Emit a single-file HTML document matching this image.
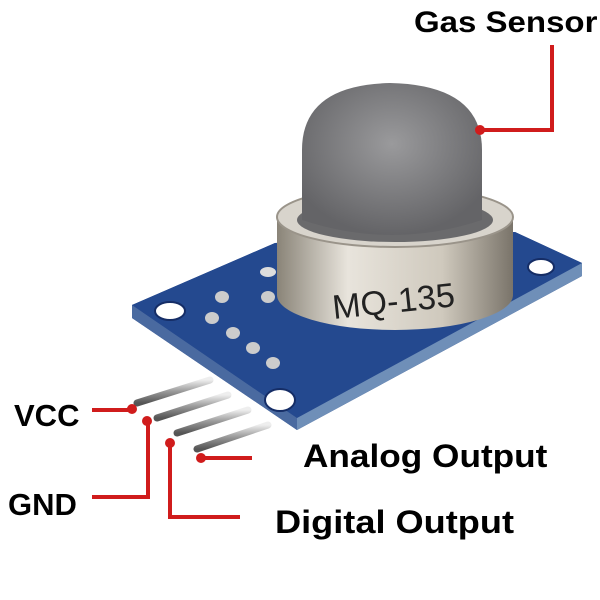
<!DOCTYPE html>
<html><head><style>
body{margin:0;background:#fff;width:600px;height:600px;overflow:hidden;position:relative;font-family:"Liberation Sans",sans-serif}
.t{position:absolute;font-weight:bold;color:#000;white-space:nowrap;line-height:1;transform-origin:0 0}
</style></head><body>
<svg width="600" height="600" style="position:absolute;left:0;top:0">
<defs>
<linearGradient id="pin" x1="0" y1="0" x2="0" y2="1"><stop offset="0" stop-color="#eee"/><stop offset=".5" stop-color="#999"/><stop offset="1" stop-color="#555"/></linearGradient>
<linearGradient id="ring" x1="0" y1="0" x2="1" y2="0"><stop offset="0" stop-color="#8a8478"/><stop offset=".3" stop-color="#e8e4dc"/><stop offset=".7" stop-color="#cfc9bd"/><stop offset="1" stop-color="#7a746a"/></linearGradient>
<radialGradient id="mesh" cx=".5" cy=".4" r=".6"><stop offset="0" stop-color="#9a9a9c"/><stop offset="1" stop-color="#646467"/></radialGradient>
</defs>
<polygon points="132,305 275,243 515,232 582,263 582,276 297,430 132,318" fill="#1f3f86"/>
<polygon points="132,305 275,243 515,232 582,263 297,418" fill="#24498f"/>
<polygon points="297,418 582,263 582,276 297,430" fill="#6f8fb8"/>
<polygon points="132,305 297,418 297,430 132,318" fill="#4a6aa0"/>
<ellipse cx="170" cy="311" rx="15" ry="9" fill="#fff" stroke="#152d66" stroke-width="2"/>
<ellipse cx="280" cy="400" rx="15" ry="11" fill="#fff" stroke="#152d66" stroke-width="2"/>
<ellipse cx="541" cy="267" rx="13" ry="8" fill="#fff" stroke="#152d66" stroke-width="2"/>
<ellipse cx="268" cy="272" rx="8" ry="5" fill="#ddd"/>
<ellipse cx="222" cy="297" rx="7" ry="6" fill="#ccc"/><ellipse cx="268" cy="297" rx="7" ry="6" fill="#ccc"/>
<ellipse cx="212" cy="318" rx="7" ry="6" fill="#ccc"/><ellipse cx="233" cy="333" rx="7" ry="6" fill="#ccc"/>
<ellipse cx="253" cy="348" rx="7" ry="6" fill="#ccc"/><ellipse cx="273" cy="363" rx="7" ry="6" fill="#ccc"/>
<g stroke="url(#pin)" stroke-width="7" stroke-linecap="round">
<line x1="137" y1="403" x2="210" y2="380"/>
<line x1="157" y1="418" x2="228" y2="395"/>
<line x1="177" y1="433" x2="248" y2="410"/>
<line x1="197" y1="449" x2="268" y2="425"/>
</g>
<path d="M277,218 L277,295 A118,35 0 0 0 513,295 L513,218 Z" fill="url(#ring)"/>
<ellipse cx="395" cy="217" rx="118" ry="30" fill="#d8d4cc" stroke="#9a948a" stroke-width="2"/>
<ellipse cx="395" cy="220" rx="98" ry="22" fill="#6a6a6c"/>
<path d="M302,220 L302,150 Q302,85 390,83 Q482,85 482,150 L482,220 Q392,250 302,220 Z" fill="url(#mesh)"/>
<text x="332" y="312" font-family="Liberation Sans,sans-serif" font-size="34" fill="#222" transform="rotate(-6 400 300)">MQ-135</text>
<g stroke="#d01c1c" stroke-width="4" fill="none">
<polyline points="552,45 552,130 480,130"/>
<line x1="92" y1="410" x2="130" y2="410"/>
<polyline points="92,497 148,497 148,422"/>
<polyline points="170,443 170,517 240,517"/>
<line x1="201" y1="458" x2="252" y2="458"/>
</g>
<g fill="#d01c1c">
<circle cx="480" cy="130" r="5"/><circle cx="132" cy="409" r="5"/><circle cx="147" cy="421" r="5"/><circle cx="170" cy="443" r="5"/><circle cx="201" cy="458" r="5"/>
</g>
</svg>
<div class="t" style="left:414px;top:8px;font-size:30px;transform:scaleX(1.1)">Gas Sensor</div>
<div class="t" style="left:14px;top:400px;font-size:31px">VCC</div>
<div class="t" style="left:8px;top:489px;font-size:31px">GND</div>
<div class="t" style="left:303px;top:440px;font-size:32px;transform:scaleX(1.1)">Analog Output</div>
<div class="t" style="left:275px;top:506px;font-size:32px;transform:scaleX(1.13)">Digital Output</div>
</body></html>
